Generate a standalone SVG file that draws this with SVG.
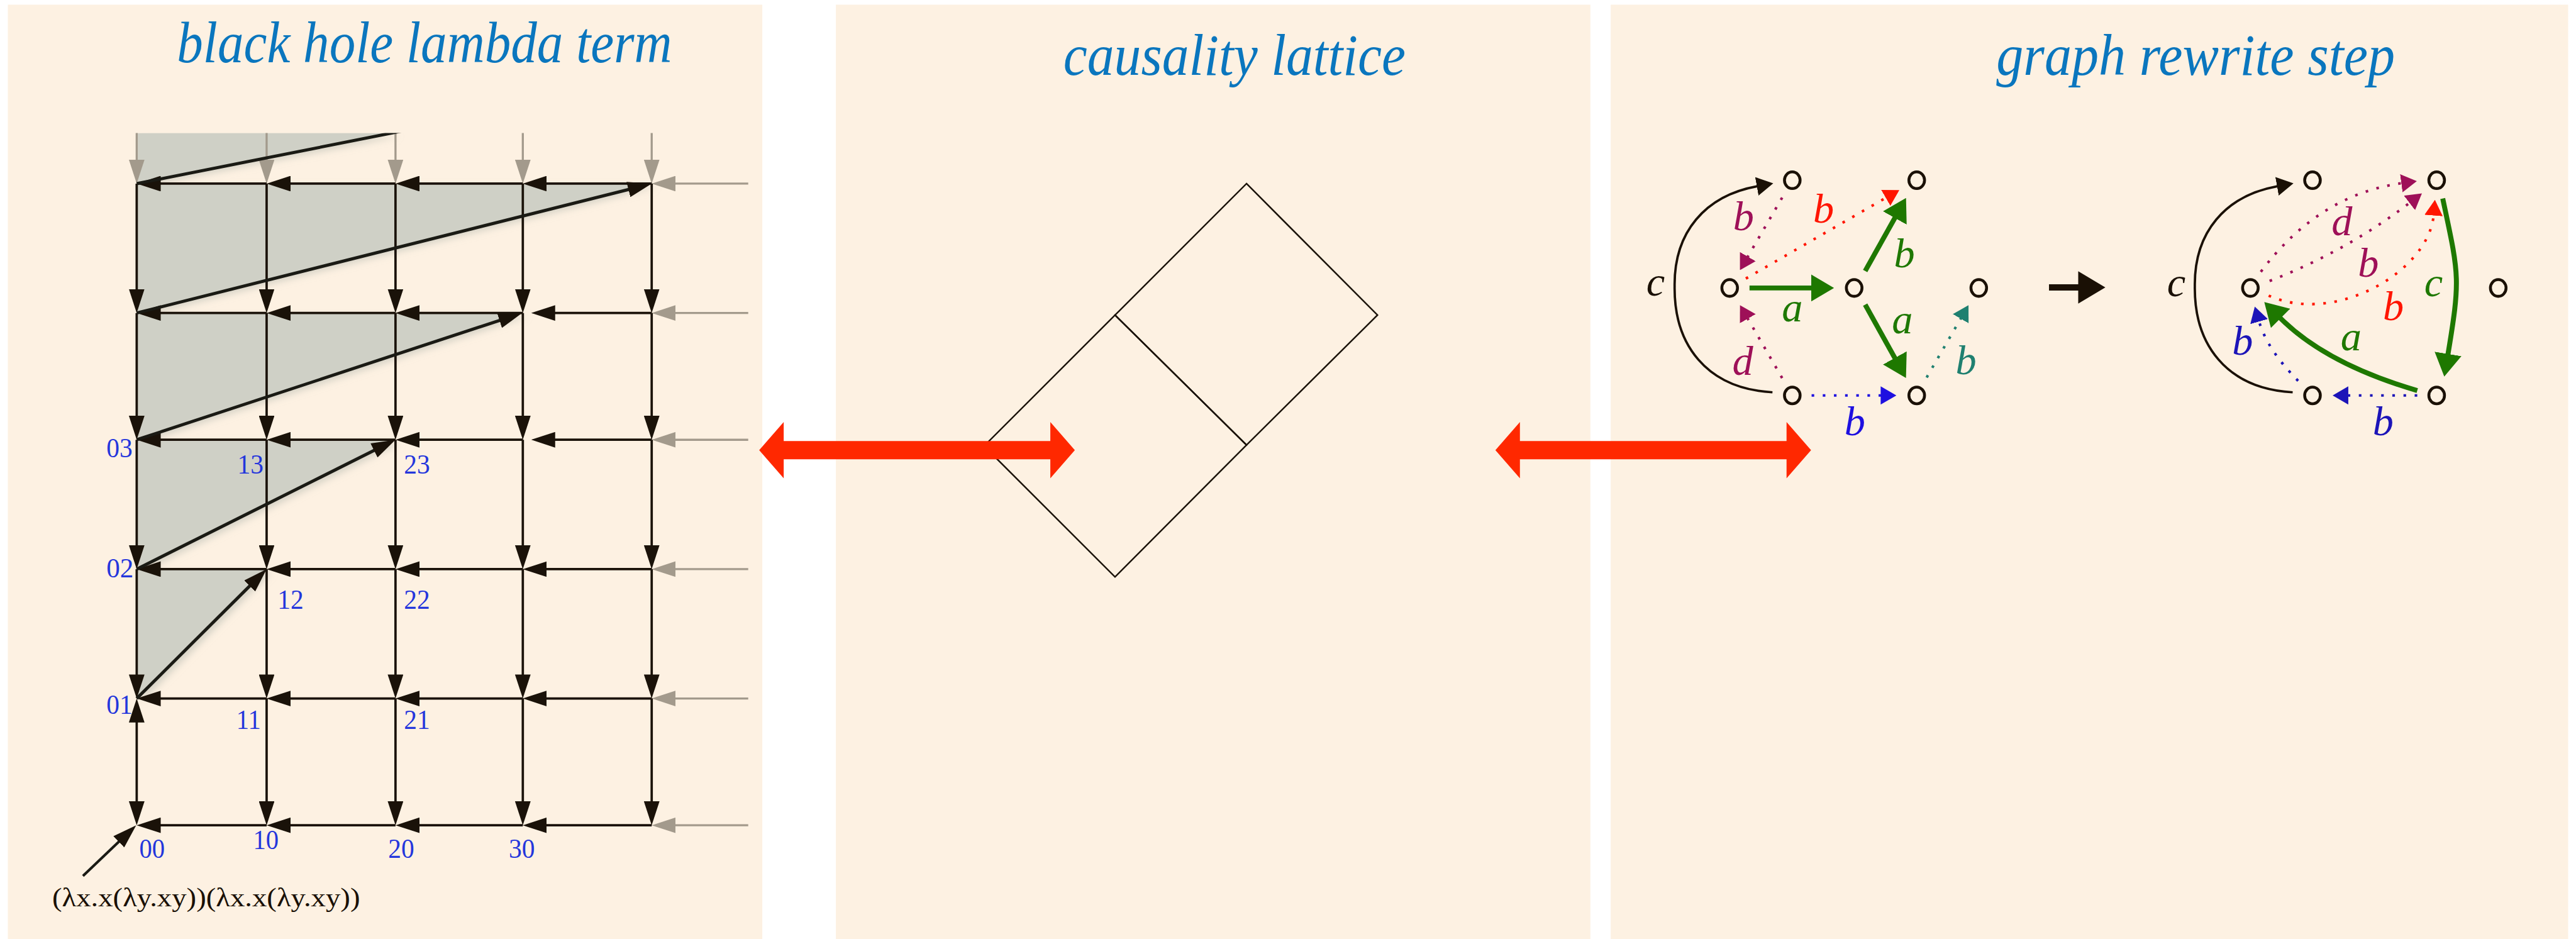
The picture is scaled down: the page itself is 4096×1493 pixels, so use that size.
<svg xmlns="http://www.w3.org/2000/svg" width="4096" height="1493" viewBox="0 0 4096 1493">
<defs>
<style>
.panel{fill:#fdf1e2}
.title{font-family:"Liberation Serif","Times New Roman",serif;font-style:italic;font-size:112px;fill:#0a76be}
.glab{font-family:"Liberation Serif","Times New Roman",serif;font-size:53px;fill:#2436dc}
.term{font-family:"Liberation Serif","Times New Roman",serif;font-size:52px;fill:#1a1005}
.grid{stroke:#1a1209;stroke-width:4.5;fill:none}
.gridg{stroke:#a39a8c;stroke-width:4;fill:none}
.diag{stroke:#1a1a14;stroke-width:6;fill:none}
.shade{fill:#cfd0c6}
.lat{stroke:#1a1209;stroke-width:3;fill:none}
.red{fill:#ff2800}
.node{fill:none;stroke:#1a1005;stroke-width:5.5}
.math{font-family:"Liberation Serif","Times New Roman",serif;font-style:italic;font-size:80px;text-anchor:middle}
.dot{stroke-width:5;stroke-dasharray:5 16.4;fill:none}
.sg{stroke:#1e7800;stroke-width:9.5;fill:none}
.sk{stroke:#1a1005;stroke-width:4.5;fill:none}
</style>
<marker id="mG" markerUnits="userSpaceOnUse" viewBox="0 0 46 30" markerWidth="46" markerHeight="30" refX="26" refY="15" orient="auto-start-reverse"><path d="M0,0 L46,15 L0,30 z" fill="#1a1209"/></marker>
<marker id="mGg" markerUnits="userSpaceOnUse" viewBox="0 0 46 30" markerWidth="46" markerHeight="30" refX="26" refY="15" orient="auto"><path d="M0,0 L46,15 L0,30 z" fill="#a39a8c"/></marker>
<marker id="mK" markerUnits="userSpaceOnUse" viewBox="0 0 32 36" markerWidth="32" markerHeight="36" refX="1" refY="18" orient="auto"><path d="M0,0 L32,18 L0,36 z" fill="#1a1005"/></marker>
<marker id="mGr" markerUnits="userSpaceOnUse" viewBox="0 0 44 52" markerWidth="44" markerHeight="52" refX="1" refY="26" orient="auto"><path d="M0,0 L44,26 L0,52 z" fill="#1e7800"/></marker>
<marker id="mM" markerUnits="userSpaceOnUse" viewBox="0 0 30 35" markerWidth="30" markerHeight="35" refX="1" refY="17.5" orient="auto"><path d="M0,0 L30,17.5 L0,35 z" fill="#9e1058"/></marker>
<marker id="mR" markerUnits="userSpaceOnUse" viewBox="0 0 30 35" markerWidth="30" markerHeight="35" refX="1" refY="17.5" orient="auto"><path d="M0,0 L30,17.5 L0,35 z" fill="#ff1500"/></marker>
<marker id="mB" markerUnits="userSpaceOnUse" viewBox="0 0 30 35" markerWidth="30" markerHeight="35" refX="1" refY="17.5" orient="auto"><path d="M0,0 L30,17.5 L0,35 z" fill="#1e10e0"/></marker>
<marker id="mB2" markerUnits="userSpaceOnUse" viewBox="0 0 30 35" markerWidth="30" markerHeight="35" refX="1" refY="17.5" orient="auto"><path d="M0,0 L30,17.5 L0,35 z" fill="#1c14b8"/></marker>
<marker id="mT" markerUnits="userSpaceOnUse" viewBox="0 0 30 35" markerWidth="30" markerHeight="35" refX="1" refY="17.5" orient="auto"><path d="M0,0 L30,17.5 L0,35 z" fill="#1f8070"/></marker>
<clipPath id="gclip"><rect x="0" y="255" width="1461" height="1545"/></clipPath>
<filter id="sh" x="-10%" y="-10%" width="130%" height="130%">
<feGaussianBlur in="SourceAlpha" stdDeviation="7"/><feOffset dx="10" dy="6" result="b"/>
<feFlood flood-color="#c4c5ba" flood-opacity="0.7"/><feComposite in2="b" operator="in"/>
<feMerge><feMergeNode/><feMergeNode in="SourceGraphic"/></feMerge>
</filter>
</defs>
<rect width="4096" height="1493" fill="#ffffff"/>
<g transform="scale(0.82965 0.82944)">
<g id="panels">
<rect class="panel" x="15" y="9" width="1446" height="1791"/>
<rect class="panel" x="1602" y="9" width="1446" height="1791"/>
<rect class="panel" x="3087" y="9" width="1835" height="1791"/>
</g>
<g id="titles">
<text class="title" x="339" y="119" textLength="949" lengthAdjust="spacingAndGlyphs">black hole lambda term</text>
<text class="title" x="2038" y="143" textLength="656" lengthAdjust="spacingAndGlyphs">causality lattice</text>
<text class="title" x="3826" y="143" textLength="764" lengthAdjust="spacingAndGlyphs">graph rewrite step</text>
</g>
<g id="shading" clip-path="url(#gclip)">
<g filter="url(#sh)">
<polygon class="shade" points="262,255 756,255 262,352"/>
<polygon class="shade" points="262,352 1249,352 262,600"/>
<polygon class="shade" points="262,600 1002,600 262,843"/>
<polygon class="shade" points="262,843 758,843 262,1091"/>
<polygon class="shade" points="262,1091 511,1091 262,1339"/>
</g>
</g>
<g id="connectors">
<g id="grid-grey" class="gridg">
<path d="M262 255 L262 332" marker-end="url(#mGg)"/>
<path d="M511 255 L511 332" marker-end="url(#mGg)"/>
<path d="M758 255 L758 332" marker-end="url(#mGg)"/>
<path d="M1002 255 L1002 332" marker-end="url(#mGg)"/>
<path d="M1249 255 L1249 332" marker-end="url(#mGg)"/>
<path d="M1434 352 L1269 352" marker-end="url(#mGg)"/>
<path d="M1434 600 L1269 600" marker-end="url(#mGg)"/>
<path d="M1434 843 L1269 843" marker-end="url(#mGg)"/>
<path d="M1434 1091 L1269 1091" marker-end="url(#mGg)"/>
<path d="M1434 1339 L1269 1339" marker-end="url(#mGg)"/>
<path d="M1434 1582 L1269 1582" marker-end="url(#mGg)"/>
</g>
<g id="grid-h" class="grid">
<path d="M511 352 L282 352" marker-end="url(#mG)"/><path d="M758 352 L531 352" marker-end="url(#mG)"/><path d="M1002 352 L778 352" marker-end="url(#mG)"/><path d="M1249 352 L1022 352" marker-end="url(#mG)"/>
<path d="M511 600 L282 600" marker-end="url(#mG)"/><path d="M758 600 L531 600" marker-end="url(#mG)"/><path d="M1002 600 L778 600" marker-end="url(#mG)"/><path d="M1249 600 L1038 600" marker-end="url(#mG)"/>
<path d="M511 843 L282 843" marker-end="url(#mG)"/><path d="M758 843 L531 843" marker-end="url(#mG)"/><path d="M1002 843 L778 843" marker-end="url(#mG)"/><path d="M1249 843 L1038 843" marker-end="url(#mG)"/>
<path d="M511 1091 L282 1091" marker-end="url(#mG)"/><path d="M758 1091 L531 1091" marker-end="url(#mG)"/><path d="M1002 1091 L778 1091" marker-end="url(#mG)"/><path d="M1249 1091 L1022 1091" marker-end="url(#mG)"/>
<path d="M511 1339 L282 1339" marker-end="url(#mG)"/><path d="M758 1339 L531 1339" marker-end="url(#mG)"/><path d="M1002 1339 L778 1339" marker-end="url(#mG)"/><path d="M1249 1339 L1022 1339" marker-end="url(#mG)"/>
<path d="M511 1582 L282 1582" marker-end="url(#mG)"/><path d="M758 1582 L531 1582" marker-end="url(#mG)"/><path d="M1002 1582 L778 1582" marker-end="url(#mG)"/><path d="M1249 1582 L1022 1582" marker-end="url(#mG)"/>
</g>
<g id="grid-v" class="grid">
<path d="M262 352 L262 580" marker-end="url(#mG)"/><path d="M262 600 L262 823" marker-end="url(#mG)"/><path d="M262 843 L262 1071" marker-end="url(#mG)"/><path d="M262 1091 L262 1319" marker-end="url(#mG)"/><path d="M262 1359 L262 1562" marker-start="url(#mG)" marker-end="url(#mG)"/>
<path d="M511 352 L511 580" marker-end="url(#mG)"/><path d="M511 600 L511 823" marker-end="url(#mG)"/><path d="M511 843 L511 1071" marker-end="url(#mG)"/><path d="M511 1091 L511 1319" marker-end="url(#mG)"/><path d="M511 1339 L511 1562" marker-end="url(#mG)"/>
<path d="M758 352 L758 580" marker-end="url(#mG)"/><path d="M758 600 L758 823" marker-end="url(#mG)"/><path d="M758 843 L758 1071" marker-end="url(#mG)"/><path d="M758 1091 L758 1319" marker-end="url(#mG)"/><path d="M758 1339 L758 1562" marker-end="url(#mG)"/>
<path d="M1002 352 L1002 580" marker-end="url(#mG)"/><path d="M1002 600 L1002 823" marker-end="url(#mG)"/><path d="M1002 843 L1002 1071" marker-end="url(#mG)"/><path d="M1002 1091 L1002 1319" marker-end="url(#mG)"/><path d="M1002 1339 L1002 1562" marker-end="url(#mG)"/>
<path d="M1249 352 L1249 580" marker-end="url(#mG)"/><path d="M1249 600 L1249 823" marker-end="url(#mG)"/><path d="M1249 843 L1249 1071" marker-end="url(#mG)"/><path d="M1249 1091 L1249 1319" marker-end="url(#mG)"/><path d="M1249 1339 L1249 1562" marker-end="url(#mG)"/>
</g>
<g id="grid-diag" class="diag">
<path d="M262 352 L1497 107" clip-path="url(#gclip)"/>
<path d="M262 600 L1229.6 356.9" marker-end="url(#mG)"/>
<path d="M262 843 L982 606.2" marker-end="url(#mG)"/>
<path d="M262 1091 L740.1 851.9" marker-end="url(#mG)"/>
<path d="M262 1339 L496.8 1105.1" marker-end="url(#mG)"/>
<path d="M159 1679 L246.5 1595.8" stroke-width="5" marker-end="url(#mG)"/>
</g>
<g id="lattice" class="lat">
<polygon points="2389,352 2640,604 2389,853 2137,604"/>
<polygon points="2137,604 2389,853 2137,1106 1886,855"/>
</g>
<g id="red-arrows" class="red">
<polygon points="1455,863 1502,809 1502,845.5 2013,845.5 2013,809 2060,863 2013,917 2013,880.5 1502,880.5 1502,917"/>
<polygon points="2866,863 2913,809 2913,845.5 3424,845.5 3424,809 3471,863 3424,917 3424,880.5 2913,880.5 2913,917"/>
</g>
<g id="step-arrow">
<polygon points="3927,545 3983,545 3983,520 4035,551 3983,582 3983,557 3927,557" fill="#1a1005"/>
</g>
<g id="left-edges">
<path class="sk" d="M3397 752 C3270 745 3208 660 3209.5 549 C3208 445 3268 375 3368 357" marker-end="url(#mK)"/>
<path class="sg" d="M3353 552 L3472 552" marker-end="url(#mGr)"/>
<path class="sg" d="M3574.7 519.4 L3632 417" marker-end="url(#mGr)"/>
<path class="sg" d="M3574.7 584 L3632 687" marker-end="url(#mGr)"/>
<path class="dot" stroke="#9e1058" d="M3415.6 378.8 L3349.3 492.8" marker-end="url(#mM)"/>
<path class="dot" stroke="#ff1500" d="M3346 534 L3615 378.8" marker-end="url(#mR)"/>
<path class="dot" stroke="#9e1058" d="M3415.6 724.7 L3349.3 610" marker-end="url(#mM)"/>
<path class="dot" stroke="#1e10e0" stroke-width="5.5" d="M3472 758 L3605.4 758" marker-end="url(#mB)"/>
<path class="dot" stroke="#1f8070" d="M3692.5 723.6 L3758.2 610" marker-end="url(#mT)"/>
</g>
<g id="right-edges">
<path class="sk" d="M4394 752 C4267 745 4205 660 4206.5 549 C4205 445 4265 375 4365 357" marker-end="url(#mK)"/>
<path class="dot" stroke="#9e1058" d="M4333 521 Q4444 373 4603.2 351.2" marker-end="url(#mM)"/>
<path class="dot" stroke="#9e1058" d="M4349.8 538.6 Q4497.5 481.4 4618.7 388.4" marker-end="url(#mM)"/>
<path class="dot" stroke="#ff1500" d="M4348 566.7 C4475.4 624.1 4655 520 4664.2 412.1" marker-end="url(#mR)"/>
<path class="sg" d="M4681.6 380.6 C4712.8 527.3 4716.2 531.6 4691.6 679.5" marker-end="url(#mGr)"/>
<path class="sg" stroke-width="10.5" d="M4632.8 748.7 Q4458.3 697.8 4370 609.5" marker-end="url(#mGr)"/>
<path class="dot" stroke="#1c14b8" stroke-width="5.5" d="M4632.8 758 L4499.6 758" marker-end="url(#mB2)"/>
<path class="dot" stroke="#1c14b8" d="M4404.5 730 Q4345 670 4329.4 615.5" marker-end="url(#mB2)"/>
</g>
</g>
<g id="grid-labels">
<text class="glab" x="204" y="877" textLength="50" lengthAdjust="spacingAndGlyphs">03</text>
<text class="glab" x="455" y="908" textLength="50" lengthAdjust="spacingAndGlyphs">13</text>
<text class="glab" x="774" y="908" textLength="50" lengthAdjust="spacingAndGlyphs">23</text>
<text class="glab" x="204" y="1107" textLength="52" lengthAdjust="spacingAndGlyphs">02</text>
<text class="glab" x="532" y="1167" textLength="50" lengthAdjust="spacingAndGlyphs">12</text>
<text class="glab" x="774" y="1167" textLength="50" lengthAdjust="spacingAndGlyphs">22</text>
<text class="glab" x="204" y="1368" textLength="50" lengthAdjust="spacingAndGlyphs">01</text>
<text class="glab" x="453" y="1397" textLength="47" lengthAdjust="spacingAndGlyphs">11</text>
<text class="glab" x="774" y="1397" textLength="50" lengthAdjust="spacingAndGlyphs">21</text>
<text class="glab" x="267" y="1645" textLength="49" lengthAdjust="spacingAndGlyphs">00</text>
<text class="glab" x="485" y="1628" textLength="49" lengthAdjust="spacingAndGlyphs">10</text>
<text class="glab" x="744" y="1645" textLength="50" lengthAdjust="spacingAndGlyphs">20</text>
<text class="glab" x="975" y="1645" textLength="50" lengthAdjust="spacingAndGlyphs">30</text>
<text class="term" x="100" y="1737" textLength="590" lengthAdjust="spacingAndGlyphs">(λx.x(λy.xy))(λx.x(λy.xy))</text>
</g>
<g id="left-nodes">
<g id="L1"><ellipse class="node" cx="3435" cy="345.5" rx="15" ry="16"/></g>
<g id="L2"><ellipse class="node" cx="3673.5" cy="345.5" rx="15" ry="16"/></g>
<g id="L3"><ellipse class="node" cx="3315" cy="552" rx="15" ry="16"/></g>
<g id="L4"><ellipse class="node" cx="3553.6" cy="552" rx="15" ry="16"/></g>
<g id="L5"><ellipse class="node" cx="3792.4" cy="552" rx="15" ry="16"/></g>
<g id="L6"><ellipse class="node" cx="3435" cy="758" rx="15" ry="16"/></g>
<g id="L7"><ellipse class="node" cx="3673.5" cy="758" rx="15" ry="16"/></g>
</g>
<g id="right-nodes">
<g id="R1"><ellipse class="node" cx="4432" cy="345.5" rx="15" ry="16"/></g>
<g id="R2"><ellipse class="node" cx="4670" cy="345.5" rx="15" ry="16"/></g>
<g id="R3"><ellipse class="node" cx="4313" cy="552" rx="15" ry="16"/></g>
<g id="R5"><ellipse class="node" cx="4788" cy="552" rx="15" ry="16"/></g>
<g id="R6"><ellipse class="node" cx="4432" cy="758" rx="15" ry="16"/></g>
<g id="R7"><ellipse class="node" cx="4670" cy="758" rx="15" ry="16"/></g>
</g>
<g id="edge-labels" class="math">
<text x="3173" y="567" fill="#1a1005">c</text>
<text x="3341.6" y="441.7" fill="#9e1058">b</text>
<text x="3495" y="427" fill="#ff1500">b</text>
<text x="3650" y="512" fill="#1e7800">b</text>
<text x="3435" y="615.6" fill="#1e7800">a</text>
<text x="3646" y="639.6" fill="#1e7800">a</text>
<text x="3340" y="719" fill="#9e1058">d</text>
<text x="3555" y="834" fill="#1e10e0">b</text>
<text x="3768" y="717" fill="#1f8070">b</text>
<text x="4171" y="568" fill="#1a1005">c</text>
<text x="4488.5" y="451" fill="#9e1058">d</text>
<text x="4539" y="530.5" fill="#9e1058">b</text>
<text x="4587" y="613.7" fill="#ff1500">b</text>
<text x="4664" y="567.5" fill="#1e7800">c</text>
<text x="4506" y="671" fill="#1e7800">a</text>
<text x="4298" y="680" fill="#1c14b8">b</text>
<text x="4567.5" y="834" fill="#1c14b8">b</text>
</g>
</g>
</svg>
